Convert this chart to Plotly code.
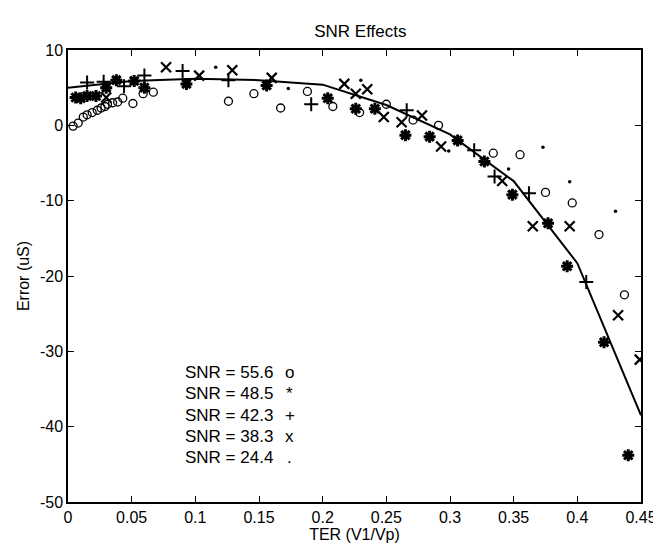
import plotly.graph_objects as go

# ---- data ----
line_x = [0.0, 0.05, 0.10, 0.15, 0.20, 0.25, 0.30, 0.35, 0.40, 0.45]
line_y = [5.0, 5.9, 6.2, 6.0, 5.4, 2.7, -1.2, -7.4, -18.3, -38.5]

snr556_x = [0.004, 0.008, 0.012, 0.015, 0.019, 0.023, 0.026, 0.029, 0.031, 0.035,
            0.039, 0.043, 0.051, 0.059, 0.067, 0.126, 0.146, 0.167, 0.188, 0.208,
            0.229, 0.250, 0.271, 0.291, 0.334, 0.355, 0.375, 0.396, 0.417, 0.437]
snr556_y = [-0.1, 0.3, 1.1, 1.4, 1.7, 2.0, 2.3, 2.5, 2.8, 3.0,
            3.1, 3.6, 2.9, 4.2, 4.4, 3.2, 4.2, 2.3, 4.5, 2.5,
            1.7, 2.8, 0.7, 0.0, -3.7, -3.9, -8.9, -10.3, -14.5, -22.5]

snr485_x = [0.006, 0.010, 0.015, 0.022, 0.030, 0.038, 0.052, 0.060, 0.093, 0.156,
            0.204, 0.226, 0.241, 0.265, 0.284, 0.306, 0.327, 0.349, 0.377, 0.392,
            0.421, 0.440]
snr485_y = [3.7, 3.6, 3.9, 3.9, 5.0, 6.0, 5.9, 5.0, 5.5, 5.3,
            3.6, 2.2, 2.2, -1.3, -1.5, -2.0, -4.8, -9.2, -13.0, -18.7,
            -28.8, -43.8]

snr423_x = [0.015, 0.028, 0.044, 0.060, 0.090, 0.126, 0.191, 0.266, 0.319, 0.335,
            0.362, 0.407]
snr423_y = [5.7, 5.8, 5.2, 6.6, 7.2, 6.0, 2.8, 2.0, -3.3, -6.8,
            -9.0, -20.8]

snr383_x = [0.030, 0.077, 0.103, 0.129, 0.160, 0.217, 0.226, 0.235, 0.248, 0.262,
            0.278, 0.293, 0.341, 0.365, 0.394, 0.432, 0.449]
snr383_y = [3.7, 7.7, 6.6, 7.3, 6.3, 5.5, 4.2, 4.8, 1.1, 0.4,
            1.3, -2.8, -7.4, -13.4, -13.4, -25.2, -31.1]

snr244_x = [0.116, 0.173, 0.230, 0.299, 0.346, 0.373, 0.394, 0.430]
snr244_y = [7.7, 4.9, 6.0, -3.4, -5.8, -2.9, -7.5, -11.4]

legend_labels = ["SNR = 55.6", "SNR = 48.5", "SNR = 42.3", "SNR = 38.3", "SNR = 24.4"]
legend_marks = ["o", "*", "+", "x", "."]
legend_y = [-32.8, -35.6, -38.5, -41.3, -44.1]

x_ticks = [0, 0.05, 0.1, 0.15, 0.2, 0.25, 0.3, 0.35, 0.4, 0.45]
x_tick_text = ["0", "0.05", "0.1", "0.15", "0.2", "0.25", "0.3", "0.35", "0.4", "0.45"]
y_ticks = [10, 0, -10, -20, -30, -40, -50]
y_tick_text = ["10", "0", "-10", "-20", "-30", "-40", "-50"]

FONT = "Liberation Sans, Arial, sans-serif"

fig = go.Figure()
fig.add_trace(go.Scatter(x=line_x, y=line_y, mode="lines",
                         line=dict(color="black", width=2)))
fig.add_trace(go.Scatter(x=snr556_x, y=snr556_y, mode="markers",
                         marker=dict(symbol="circle-open", size=8, color="black",
                                     line=dict(width=1.3, color="black"))))
fig.add_trace(go.Scatter(x=snr485_x, y=snr485_y, mode="markers",
                         marker=dict(symbol="asterisk-open", size=10, color="black",
                                     line=dict(width=3, color="black"))))
fig.add_trace(go.Scatter(x=snr423_x, y=snr423_y, mode="markers",
                         marker=dict(symbol="cross-thin-open", size=10, color="black",
                                     line=dict(width=2, color="black"))))
fig.add_trace(go.Scatter(x=snr383_x, y=snr383_y, mode="markers",
                         marker=dict(symbol="x-thin-open", size=10, color="black",
                                     line=dict(width=2.2, color="black"))))
fig.add_trace(go.Scatter(x=snr244_x, y=snr244_y, mode="markers",
                         marker=dict(symbol="circle", size=3.5, color="black")))

for lab, mk, yy in zip(legend_labels, legend_marks, legend_y):
    fig.add_annotation(x=0.090, y=yy, xref="x", yref="y", text=lab, showarrow=False,
                       xanchor="left", yanchor="middle",
                       font=dict(family=FONT, size=17, color="black"))
    fig.add_annotation(x=0.174, y=yy, xref="x", yref="y", text=mk, showarrow=False,
                       xanchor="center", yanchor="middle",
                       font=dict(family=FONT, size=17, color="black"))

axis_common = dict(showline=True, linecolor="black", linewidth=1.5, mirror="ticks",
                   ticks="inside", ticklen=6, tickwidth=1.2, tickcolor="black",
                   showgrid=False, zeroline=False,
                   tickfont=dict(family=FONT, size=16, color="black"))

fig.update_xaxes(range=[0, 0.45], tickvals=x_ticks, ticktext=x_tick_text,
                 title=dict(text="TER (V1/Vp)", font=dict(family=FONT, size=16, color="black"),
                            standoff=2),
                 **axis_common)
fig.update_yaxes(range=[-50, 10], tickvals=y_ticks, ticktext=y_tick_text,
                 title=dict(text="Error (uS)", font=dict(family=FONT, size=16, color="black"),
                            standoff=6),
                 **axis_common)

fig.update_layout(
    width=661, height=543,
    margin=dict(l=60, r=18, t=42, b=43),
    paper_bgcolor="white", plot_bgcolor="white",
    showlegend=False,
    title=dict(text="SNR Effects", x=0.533, xanchor="center", y=0.958, yanchor="middle",
               font=dict(family=FONT, size=17, color="black")),
)

fig.write_html("out.html")
